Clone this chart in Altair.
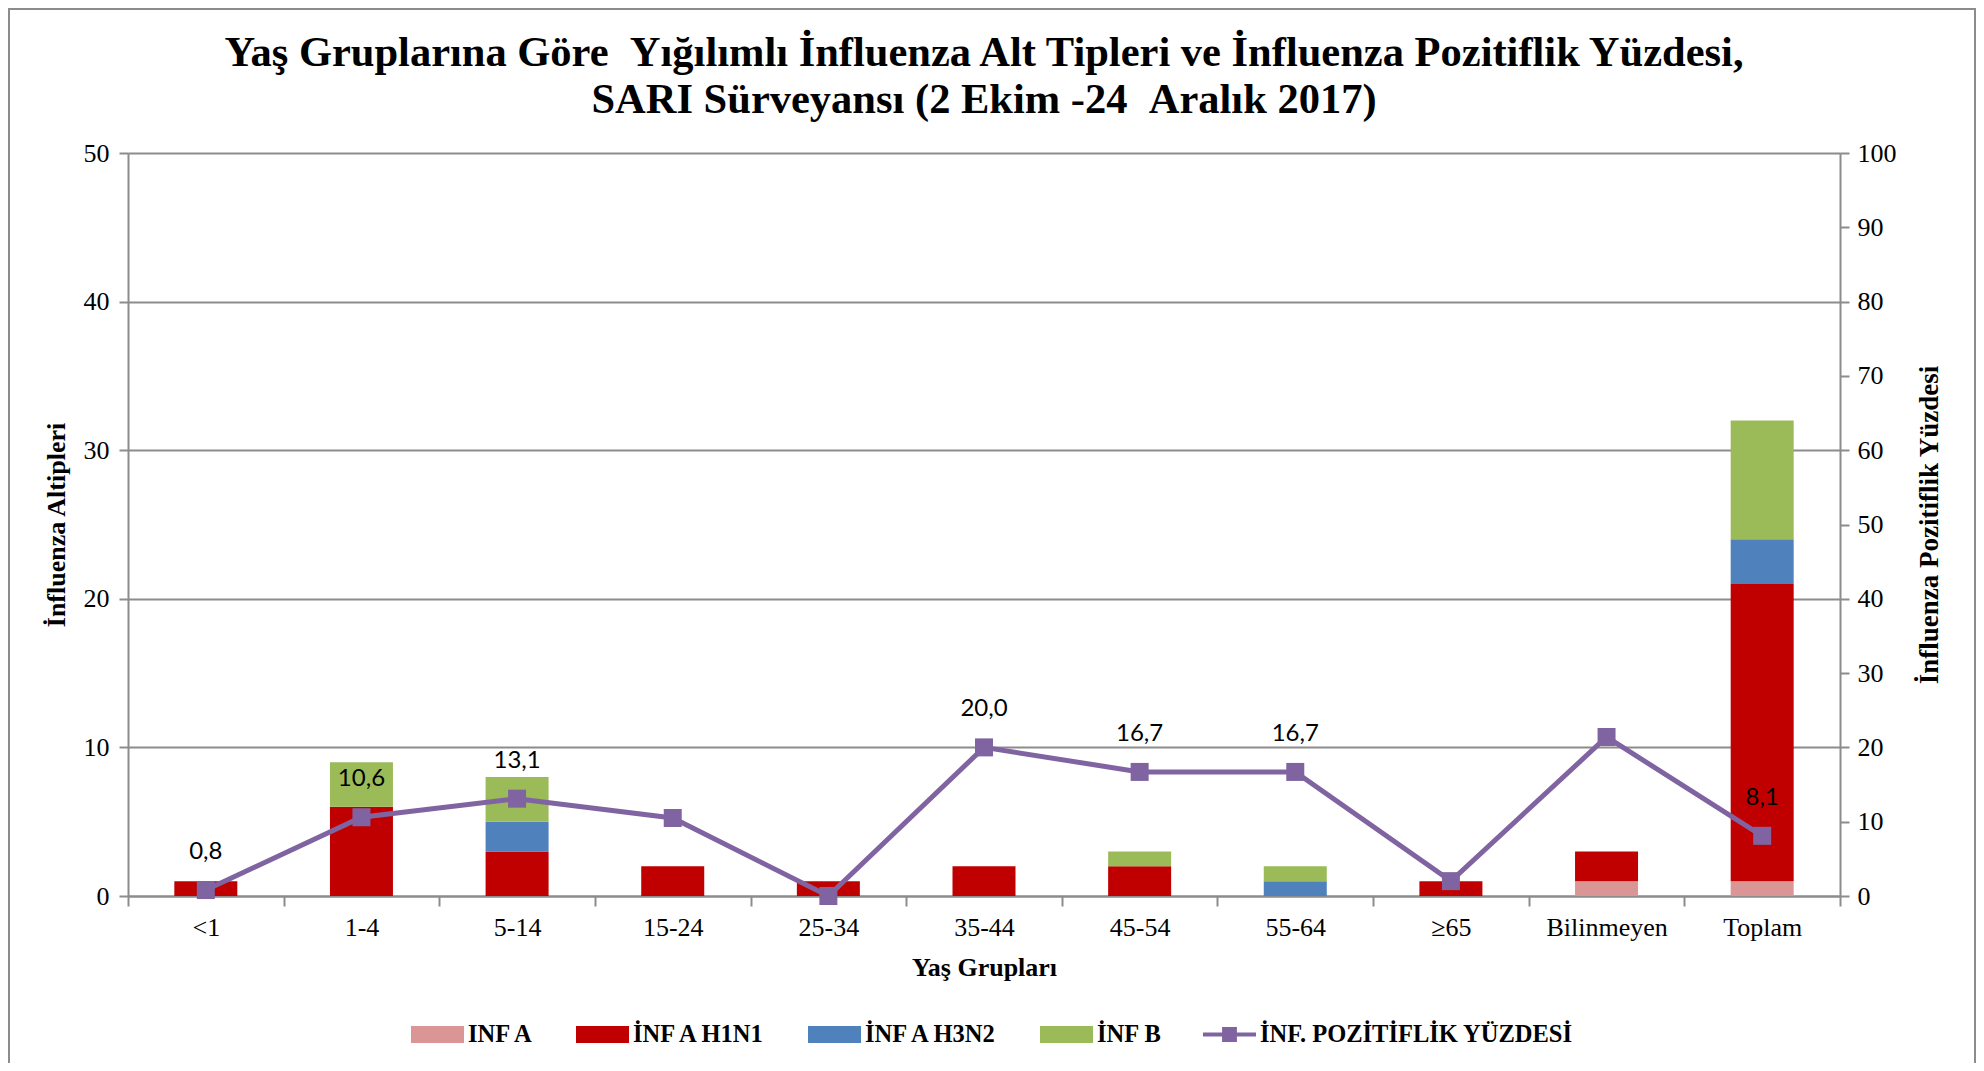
import altair as alt
import pandas as pd

categories = ["<1", "1-4", "5-14", "15-24", "25-34", "35-44", "45-54", "55-64", "≥65", "Bilinmeyen", "Toplam"]
inf_a = [0, 0, 0, 0, 0, 0, 0, 0, 0, 1, 1]
inf_a_h1n1 = [1, 6, 3, 2, 1, 2, 2, 0, 1, 2, 20]
inf_a_h3n2 = [0, 0, 2, 0, 0, 0, 0, 1, 0, 0, 3]
inf_b = [0, 3, 3, 0, 0, 0, 1, 1, 0, 0, 8]
positivity = [0.8, 10.6, 13.1, 10.5, 0.0, 20.0, 16.7, 16.7, 2.0, 21.4, 8.1]
positivity_labels = ["0,8", "10,6", "13,1", "", "", "20,0", "16,7", "16,7", "", "", "8,1"]
subtype_names = ["INF A", "İNF A H1N1", "İNF A H3N2", "İNF B"]
subtype_colors = ["#D99694", "#C00000", "#4F81BD", "#9BBB59"]
line_name = "İNF. POZİTİFLİK YÜZDESİ"
line_color = "#8064A2"

title_lines = ["Yaş Gruplarına Göre \u00a0Yığılımlı İnfluenza Alt Tipleri ve İnfluenza Pozitiflik Yüzdesi,",
               "SARI Sürveyansı (2 Ekim -24 \u00a0Aralık 2017)"]

# ---- tables
rows = []
for si, (name, vals) in enumerate(zip(subtype_names, [inf_a, inf_a_h1n1, inf_a_h3n2, inf_b])):
    for ci, (c, v) in enumerate(zip(categories, vals)):
        if v > 0:
            rows.append({"cat": c, "subtype": name, "count": v, "idx": si})
bar_df = pd.DataFrame(rows)
line_df = pd.DataFrame({"cat": categories, "pct": positivity, "label": positivity_labels,
                        "series": [line_name] * len(categories), "i": list(range(len(categories)))})

W, H = 1712, 743
GRAY = "#8c8c8c"
SERIF = "Liberation Serif"

x_enc = alt.X("cat:N", sort=categories,
              scale=alt.Scale(paddingInner=0, paddingOuter=0),
              axis=alt.Axis(title="Yaş Grupları", labelAngle=0, tickBand="extent",
                            tickSize=10, labelPadding=8, titlePadding=14,
                            labelFontSize=26, titleFontSize=26))

y_left = alt.Y("count:Q", stack="zero", scale=alt.Scale(domain=[0, 50]),
               axis=alt.Axis(title="İnfluenza Altipleri", orient="left", values=[0, 10, 20, 30, 40, 50],
                             grid=True, tickSize=9, labelPadding=10, titlePadding=14,
                             labelFontSize=26, titleFontSize=26))

y_right = alt.Y("pct:Q", scale=alt.Scale(domain=[0, 100]),
                axis=alt.Axis(title="İnfluenza Pozitiflik Yüzdesi", orient="right",
                              values=list(range(0, 101, 10)), grid=False, tickSize=9,
                              labelPadding=8, titlePadding=20, titleAngle=270, titleBaseline="top",
                              labelFontSize=26, titleFontSize=27))

bar_path = "M-1,-0.32H1V0.32H-1Z"
line_path = "M-1,-0.08H-0.28V-0.28H0.28V-0.08H1V0.08H0.28V0.28H-0.28V0.08H-1Z"

legend_common = dict(orient="none", direction="horizontal", title=None,
                     labelFont=SERIF, labelFontSize=24.5, labelFontWeight="bold", labelColor="black",
                     labelLimit=500, symbolSize=2809, symbolStrokeWidth=0, labelOffset=4, padding=0,
                     columnPadding=41, legendY=855)

bars = alt.Chart(bar_df).mark_bar(size=63).encode(
    x=x_enc,
    y=y_left,
    color=alt.Color("subtype:N", scale=alt.Scale(domain=subtype_names, range=subtype_colors),
                    legend=alt.Legend(symbolType=bar_path, legendX=283, **legend_common)),
    order=alt.Order("idx:Q"),
)

line = alt.Chart(line_df).mark_line(color=line_color, strokeWidth=5).encode(
    x=x_enc, y=y_right, order=alt.Order("i:Q"))

points = alt.Chart(line_df).mark_point(shape="square", filled=True, size=324, opacity=1).encode(
    x=x_enc, y=y_right,
    color=alt.Color("series:N", scale=alt.Scale(domain=[line_name], range=[line_color]),
                    legend=alt.Legend(symbolType=line_path, legendX=1075, **legend_common)))

labels = alt.Chart(line_df).mark_text(dy=-38, font="Lato", fontSize=24, color="black").encode(
    x=x_enc, y=y_right, text="label:N")

border = alt.Chart(pd.DataFrame({"k": [0]})).mark_rect(
    fill="transparent", stroke=GRAY, strokeWidth=2).encode(
    x=alt.value(-119), x2=alt.value(1847), y=alt.value(-144), y2=alt.value(1000))

right = alt.layer(line, points, labels)

chart = alt.layer(border, bars, right).resolve_scale(
    y="independent", color="independent"
).properties(
    width=W, height=H,
    padding={"left": 120, "top": 145, "right": 136, "bottom": 167},
    autosize=alt.AutoSizeParams(type="none"),
    title=alt.Title(title_lines, font=SERIF, fontSize=42.5, fontWeight="bold", lineHeight=47,
                    anchor="middle", color="black", offset=20, dy=133),
).configure_view(stroke=None).configure_axis(
    labelFont=SERIF, labelColor="black", titleFont=SERIF, titleFontWeight="bold", titleColor="black",
    domainColor=GRAY, domainWidth=2, tickColor=GRAY, tickWidth=2, gridColor=GRAY, gridWidth=2,
)

chart.save("out.html", embed_options={"renderer": "svg", "actions": False})
